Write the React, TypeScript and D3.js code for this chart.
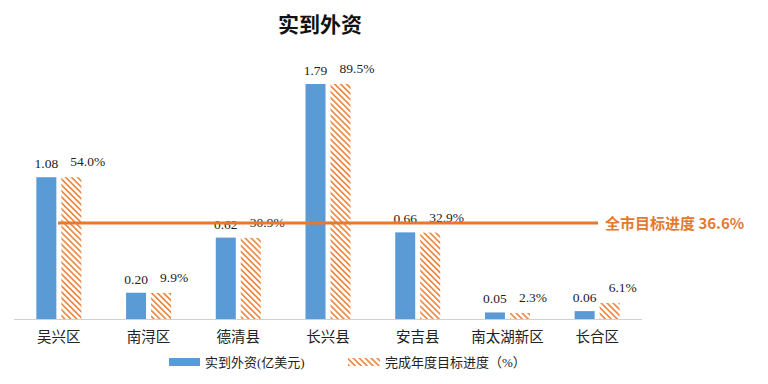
import React from "react";
import * as d3 from "d3";

const categories = ["吴兴区", "南浔区", "德清县", "长兴县", "安吉县", "南太湖新区", "长合区"];
const investment = [1.08, 0.2, 0.62, 1.79, 0.66, 0.05, 0.06];
const progress = [54.0, 9.9, 30.9, 89.5, 32.9, 2.3, 6.1];
const investmentLabels = ["1.08", "0.20", "0.62", "1.79", "0.66", "0.05", "0.06"];
const progressLabels = ["54.0%", "9.9%", "30.9%", "89.5%", "32.9%", "2.3%", "6.1%"];
const cityTarget = 36.6;
const title = "实到外资";
const seriesNames = ["实到外资(亿美元)", "完成年度目标进度（%）"];
const targetLabel = "全市目标进度 36.6%";

const W = 768;
const H = 384;
const BLUE = "#5B9BD5";
const ORANGE = "#EE8A45";
const LINE = "#E4792F";
const FONT = "'Liberation Serif', 'Noto Sans CJK SC', serif";

export default function App() {
  const baseY = 319;
  const x = d3.scaleBand<string>().domain(categories).range([14, 642]).padding(0);
  const yInv = d3.scaleLinear().domain([0, 1.79]).range([baseY, 84]);
  const yPct = d3.scaleLinear().domain([0, 89.5]).range([baseY, 84]);
  const barW = 20;
  const gap = 5;

  return (
    <svg
      width={W}
      height={H}
      style={{ position: "absolute", left: 0, top: 0, background: "#fff" }}
      fontFamily={FONT}
    >
      <defs>
        <pattern
          id="hatch"
          patternUnits="userSpaceOnUse"
          width={4.2}
          height={4.2}
          patternTransform="rotate(-45)"
        >
          <rect x={0} y={0} width={4.2} height={4.2} fill="#fff" />
          <rect x={0} y={0} width={1.7} height={4.2} fill={ORANGE} />
        </pattern>
      </defs>
      <rect x={0} y={0} width={W} height={H} fill="#fff" />
      <text x={320} y={32} textAnchor="middle" fontSize={21} fontWeight="bold" fill="#111">
        {title}
      </text>

      {categories.map((c, i) => {
        const cx = (x(c) as number) + x.bandwidth() / 2;
        const bx = cx - gap / 2 - barW;
        const hx = cx + gap / 2;
        const by = yInv(investment[i]);
        const hy = yPct(progress[i]);
        return (
          <g key={c}>
            <rect x={bx} y={by} width={barW} height={baseY - by} fill={BLUE} />
            <rect x={hx} y={hy} width={barW} height={baseY - hy} fill="url(#hatch)" />
            <text x={bx + barW / 2} y={by - 9} textAnchor="middle" fontSize={13.5} fill="#222">
              {investmentLabels[i]}
            </text>
            <text x={hx + 9} y={hy - 11} textAnchor="start" fontSize={13.5} fill="#222">
              {progressLabels[i]}
            </text>
            <text x={cx} y={342} textAnchor="middle" fontSize={14.5} fill="#222">
              {c}
            </text>
          </g>
        );
      })}

      <line x1={14} x2={642} y1={baseY + 0.5} y2={baseY + 0.5} stroke="#d0d0d0" strokeWidth={1} />

      <line
        x1={58}
        x2={598}
        y1={yPct(cityTarget)}
        y2={yPct(cityTarget)}
        stroke={LINE}
        strokeWidth={3}
      />
      <text
        x={605}
        y={yPct(cityTarget) + 6}
        fontSize={15}
        fontWeight="bold"
        fill={LINE}
        fontFamily="'Noto Sans CJK SC', sans-serif"
      >
        {targetLabel}
      </text>

      <g>
        <rect x={169} y={358} width={31} height={8} fill={BLUE} />
        <text x={205} y={367} fontSize={13} fill="#222">
          {seriesNames[0]}
        </text>
        <rect x={348} y={358} width={32} height={8} fill="url(#hatch)" />
        <text x={385} y={367} fontSize={13} fill="#222">
          {seriesNames[1]}
        </text>
      </g>
    </svg>
  );
}
